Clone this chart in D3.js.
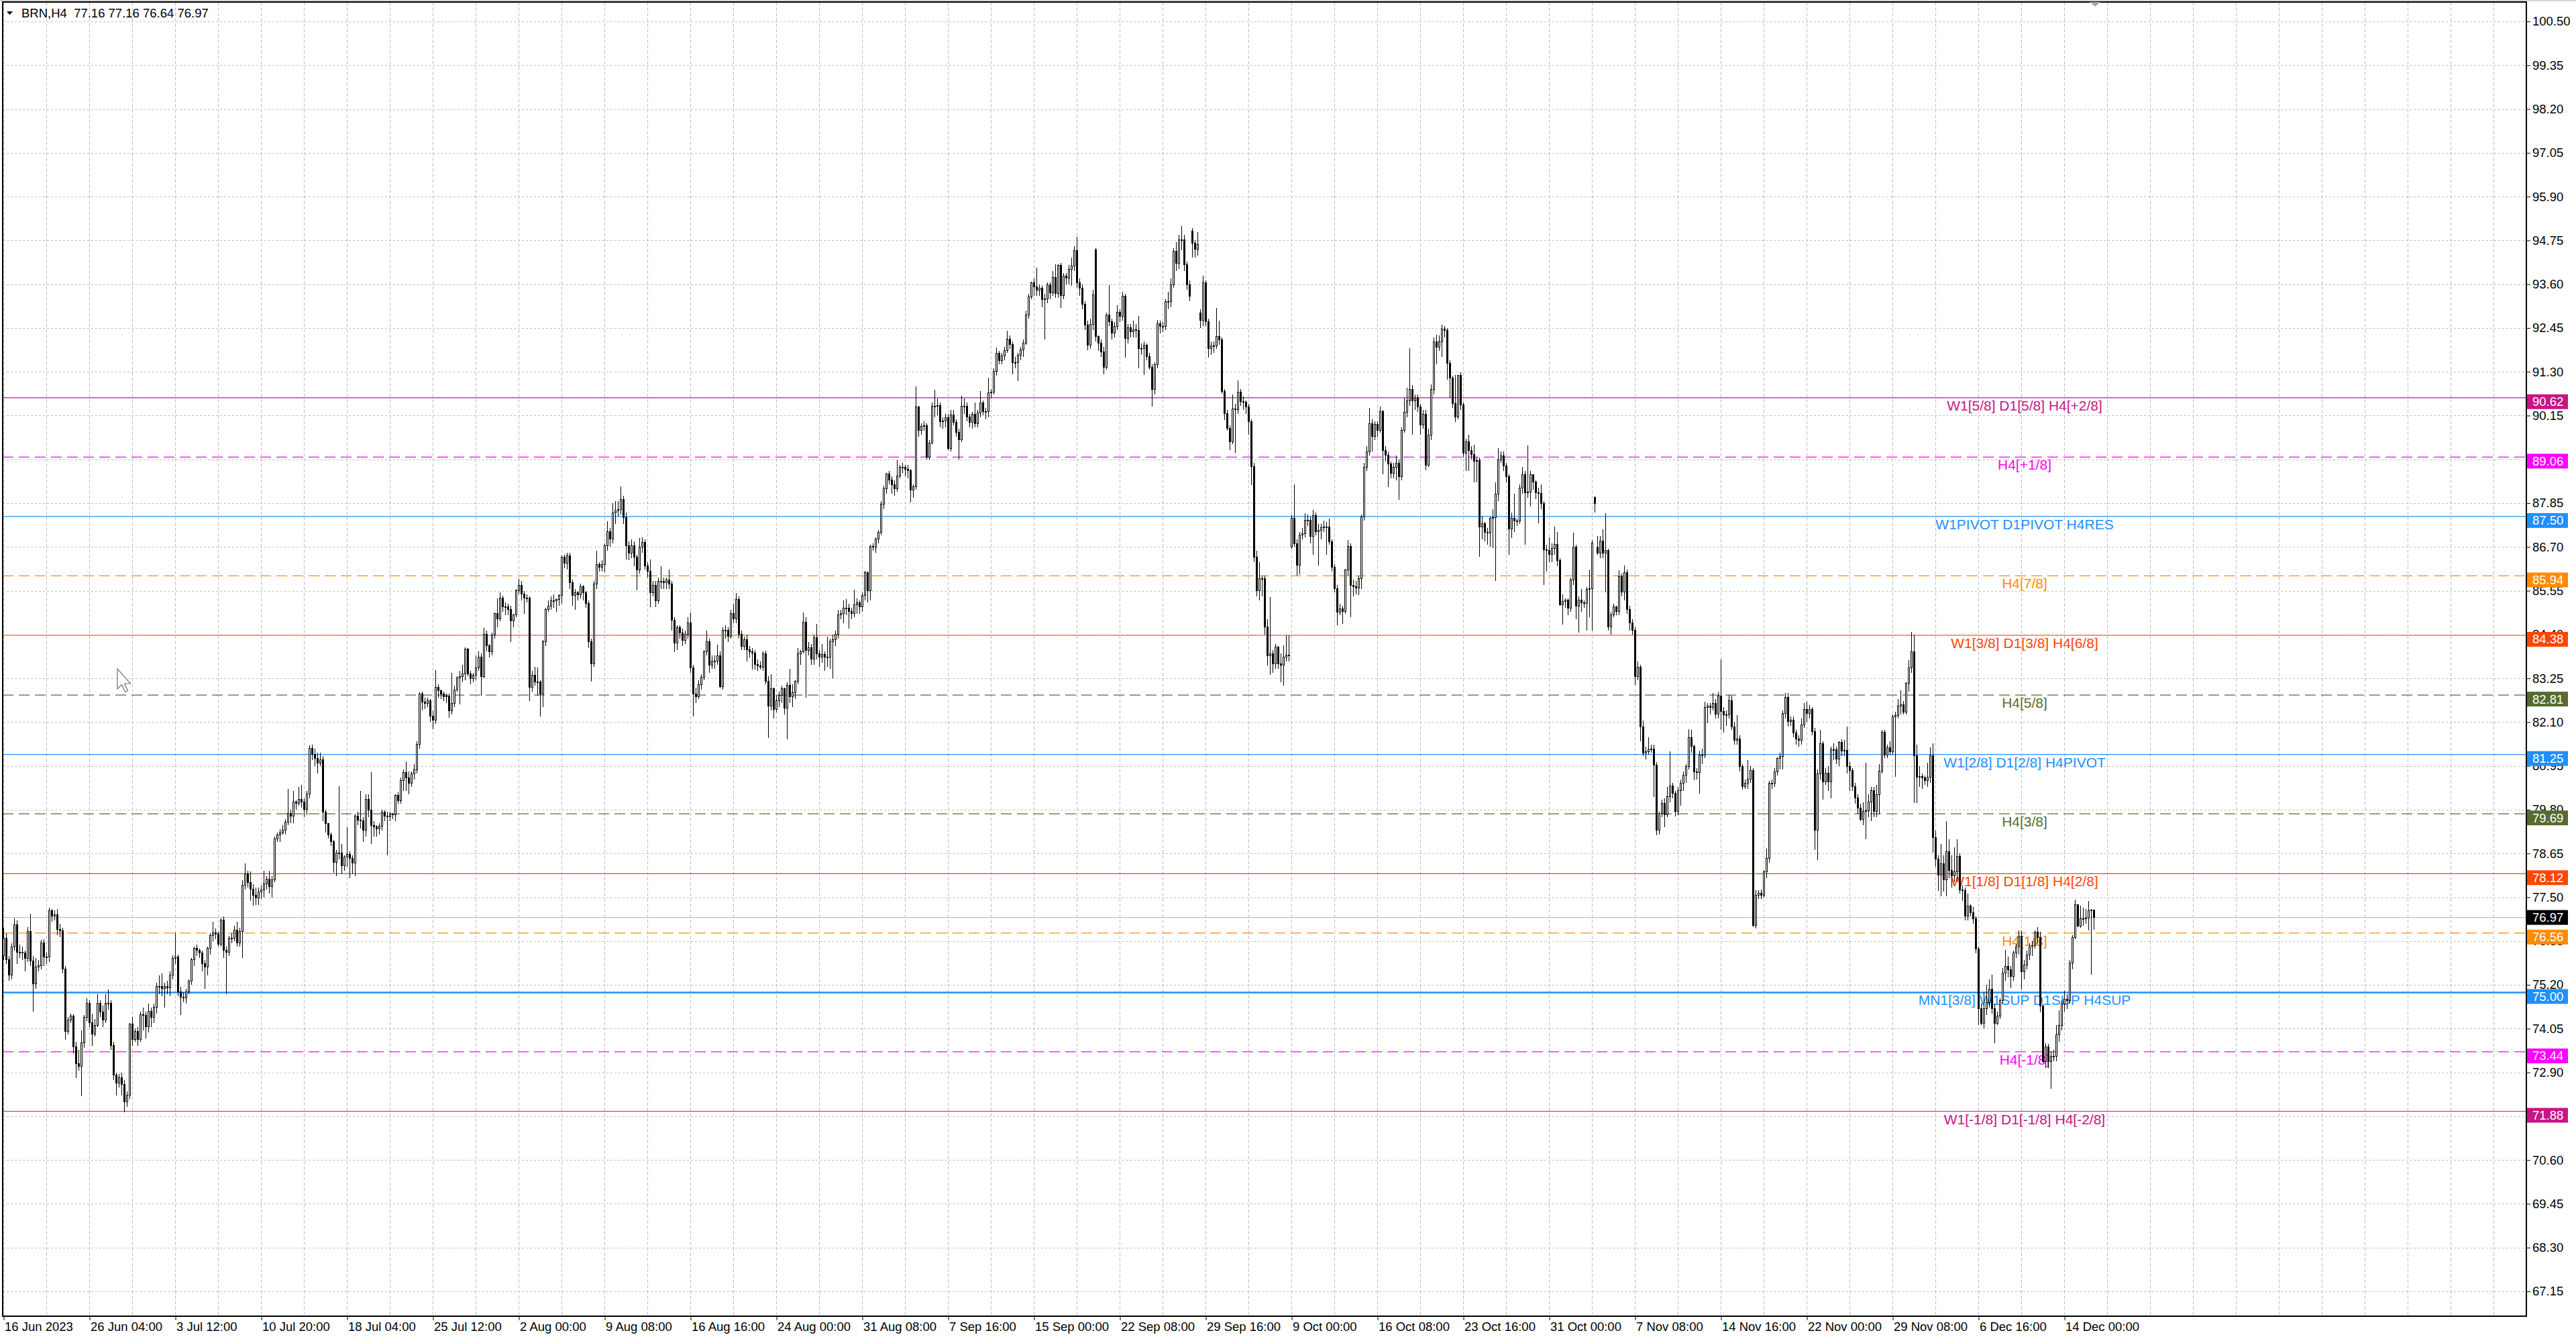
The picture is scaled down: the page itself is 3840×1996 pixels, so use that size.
<!DOCTYPE html>
<html>
<head>
<meta charset="utf-8">
<title>BRN,H4</title>
<script src="https://cdn.jsdelivr.net/npm/d3@7"></script>
<style>
  body { margin: 0; background: #fff; overflow: hidden; }
  svg { display: block; }
  text { font-family: "Liberation Sans", Arial, sans-serif; }
</style>
</head>
<body>
<svg></svg>
<script>
var symbol = "BRN,H4";
var lastQuote = [77.16, 77.16, 76.64, 76.97];

// H4 closes (16 Jun - 15 Dec 2023)
var closes = [
  76.43,75.86,75.45,76.2,76.77,76.06,76.06,76.03,75.9,76.6,
  75.83,75.22,75.66,75.7,76.3,75.93,75.93,77.14,77.0,77.05,
  76.65,76.62,75.62,73.97,74.28,74.38,73.57,73.13,73.06,73.67,
  74.34,74.72,74.21,73.9,74.14,74.71,74.48,74.28,74.71,74.72,
  73.6,72.83,72.62,72.76,72.59,72.12,72.3,74.17,73.77,73.97,
  73.77,74.41,74.4,74.1,74.51,74.34,74.61,75.15,75.15,75.1,
  75.15,75.12,75.45,75.89,75.93,75.02,74.88,74.85,75.02,75.29,
  75.86,76.16,76.1,76.03,75.76,75.66,76.16,76.5,76.57,76.53,
  76.27,76.91,76.1,76.06,76.43,76.43,76.64,76.3,76.6,77.81,
  78.12,77.88,77.71,77.55,77.48,77.65,77.7,77.85,77.98,77.78,
  77.95,79.03,79.13,79.2,79.26,79.47,79.7,79.64,80.01,79.97,
  80.07,80.01,79.8,80.21,81.41,81.25,81.15,81.02,81.12,79.74,
  79.43,79.14,78.96,78.42,78.66,78.66,78.32,78.56,78.63,78.53,
  78.39,79.64,79.53,79.5,79.27,80.07,79.79,79.39,79.35,79.3,
  79.36,79.73,79.64,79.62,79.68,79.66,80.17,80.03,80.57,80.77,
  80.64,80.5,80.74,80.84,81.51,82.83,82.63,82.59,82.66,82.25,
  82.15,83.01,82.92,82.83,82.76,82.79,82.39,82.6,82.94,83.26,
  83.3,83.36,84.01,83.37,83.24,83.33,83.53,83.8,83.3,84.41,
  84.1,83.94,84.38,84.95,84.82,85.36,85.12,85.12,85.05,84.75,
  84.92,85.56,85.69,85.46,85.36,85.36,83.01,83.33,83.16,83.16,
  82.83,84.21,85.05,85.15,85.29,85.29,85.32,85.42,86.43,86.27,
  86.47,85.76,85.42,85.5,85.44,85.66,85.49,85.22,84.21,83.64,
  85.73,86.23,86.16,86.23,86.74,87.11,86.91,87.6,87.65,87.68,
  87.95,87.48,86.74,86.53,86.73,86.43,86.1,86.7,86.82,86.2,
  86.06,85.5,85.7,85.29,85.8,85.8,85.76,85.83,85.73,84.78,
  84.18,84.58,84.45,84.24,84.41,84.71,83.53,82.83,82.76,83.08,
  83.28,83.94,84.21,83.6,83.7,83.7,83.84,83.03,84.51,84.51,
  84.36,84.96,84.82,85.33,84.41,84.09,84.27,84.0,83.95,83.92,
  83.62,83.58,83.55,83.9,83.17,82.52,82.98,82.43,82.66,82.81,
  82.98,82.47,83.07,82.76,82.87,83.17,83.9,83.94,84.73,83.99,
  84.05,83.76,84.31,83.9,83.81,83.87,83.8,83.8,84.22,84.27,
  84.41,84.92,84.96,85.1,85.1,85.0,84.96,85.19,85.24,85.12,
  85.42,86.02,85.56,86.71,86.69,86.9,87.08,87.82,88.23,88.62,
  88.45,88.33,88.23,88.56,88.79,88.79,88.74,88.7,88.19,88.28,
  90.37,89.76,89.87,89.88,89.05,89.43,90.4,90.4,90.42,89.99,
  90.0,90.1,89.29,90.17,89.98,89.71,89.52,90.4,90.4,90.12,
  89.98,90.19,89.94,90.22,90.49,90.26,90.26,90.74,90.77,91.32,
  91.78,91.6,91.72,91.85,92.15,92.01,91.55,91.55,91.74,91.87,
  92.06,92.8,93.26,93.63,93.53,93.44,93.49,93.19,93.21,93.58,
  93.38,93.78,93.35,94.1,93.3,93.81,93.76,93.99,94.08,94.48,
  93.63,93.5,93.07,92.52,92.0,92.55,93.32,92.22,92.05,91.83,
  91.42,92.8,92.62,92.31,92.49,92.86,92.75,93.29,92.18,92.46,
  92.35,92.4,92.38,91.92,91.92,92.0,91.7,91.42,90.84,91.48,
  92.56,92.49,92.49,93.15,93.15,93.58,94.46,94.15,94.77,94.77,
  94.11,93.58,93.28,94.68,94.52,94.65,92.66,93.63,92.62,91.92,
  91.99,91.98,92.22,92.14,90.78,90.21,89.81,89.46,90.32,90.3,
  90.76,90.52,90.5,90.38,89.99,88.81,86.44,85.56,85.87,85.87,
  84.6,83.85,83.9,83.63,84.07,83.63,83.6,83.8,83.86,83.84,
  87.45,86.79,86.22,87.01,87.05,87.4,87.4,86.97,87.52,87.1,
  87.14,87.2,87.23,87.23,86.84,86.17,85.6,84.99,85.08,85.0,
  86.09,86.72,85.69,85.65,85.63,85.87,87.49,88.8,89.2,89.94,
  89.6,89.92,89.77,90.25,89.24,89.11,88.89,88.63,88.8,88.9,
  88.54,89.77,90.23,90.53,90.84,90.53,90.6,90.38,89.9,90.18,
  88.85,89.64,90.84,92.09,91.95,92.08,92.42,92.38,91.52,91.13,
  90.47,90.12,91.2,90.43,89.16,89.46,89.24,89.13,88.95,88.97,
  87.22,87.31,87.08,87.07,87.46,87.48,88.08,88.99,89.1,88.82,
  88.54,87.17,87.46,87.38,87.38,88.25,88.6,88.12,88.15,88.6,
  88.4,88.12,88.1,87.84,86.63,86.6,86.5,86.67,86.76,86.35,
  85.18,85.27,85.3,85.1,85.84,86.7,85.14,85.31,85.23,85.21,
  85.59,85.6,86.8,87.84,86.53,86.85,86.54,86.6,84.6,84.92,
  85.12,85.01,85.93,85.51,86.03,85.05,84.7,84.52,83.3,83.54,
  81.98,81.28,81.32,81.37,81.39,80.97,79.27,79.7,79.96,79.66,
  80.14,80.42,80.23,79.75,80.31,80.49,80.71,80.93,81.7,81.46,
  80.8,80.77,81.24,81.24,82.49,82.52,82.49,82.6,82.31,82.79,
  82.38,82.29,82.3,82.67,81.98,81.63,81.65,80.93,80.4,80.49,
  80.6,80.83,76.76,77.55,77.6,77.56,78.17,78.52,80.49,80.49,
  80.8,81.15,81.2,82.33,82.75,82.11,82.16,81.81,81.65,81.63,
  82.03,82.44,82.33,82.44,81.85,79.27,80.75,81.54,80.53,80.76,
  80.53,81.38,81.38,81.13,81.57,81.34,81.36,80.94,80.83,80.4,
  80.1,79.84,79.54,79.76,79.78,80.01,80.31,79.76,80.2,80.82,
  81.84,81.24,81.43,81.33,82.24,82.27,82.53,82.56,82.37,83.12,
  83.52,83.95,81.21,80.66,80.67,80.63,80.57,80.66,81.21,79.07,
  78.51,78.08,78.38,77.95,78.7,78.21,78.07,78.17,78.58,77.7,
  77.67,77.01,77.27,77.1,76.93,76.15,74.57,74.18,74.57,74.74,
  75.08,74.57,74.18,74.39,74.78,75.51,75.68,75.6,75.43,76.03,
  76.2,76.47,75.55,75.72,75.98,76.2,76.24,76.58,76.45,74.65,
  73.19,73.58,73.19,73.33,73.33,73.88,74.14,74.7,74.83,74.78,
  75.77,76.45,77.31,76.75,76.93,76.93,76.95,77.14,77.16,76.97
];

var highs = [
  76.7,76.55,75.95,76.3,76.95,76.9,76.25,76.2,76.1,76.72,
  77.07,75.95,75.9,75.85,76.38,76.4,76.05,77.23,77.2,77.15,
  77.2,76.8,76.7,75.7,74.35,74.45,74.42,73.7,73.5,74.0,
  74.4,74.85,74.8,74.45,74.3,74.95,74.8,74.65,74.95,75.08,
  74.8,73.7,72.9,72.85,72.9,72.7,72.4,74.2,74.35,74.05,
  74.1,74.5,74.6,74.5,74.7,74.6,74.7,75.25,75.45,75.5,
  75.25,75.3,75.55,75.97,76.57,76.0,75.15,75.0,75.1,75.35,
  75.9,76.2,76.25,76.15,76.1,75.85,76.2,76.55,76.85,76.68,
  76.6,76.95,77.0,76.2,76.48,76.55,76.75,76.85,76.7,77.95,
  78.39,78.2,78.18,77.85,77.75,77.75,77.8,78.2,78.05,78.2,
  78.05,79.1,79.2,79.28,79.4,79.55,80.34,79.8,80.3,80.05,
  80.4,80.45,80.1,80.3,81.49,81.5,81.4,81.3,81.3,81.2,
  79.8,79.3,79.2,79.0,78.75,80.41,78.9,78.6,79.35,78.7,
  78.6,79.7,79.75,80.3,79.6,80.21,80.2,80.78,79.5,79.4,
  79.45,79.8,79.78,79.75,79.75,79.72,80.2,80.25,80.65,80.85,
  81.07,80.8,80.8,81.0,81.6,82.89,82.9,82.75,82.75,82.7,
  82.4,83.47,83.1,82.95,82.9,82.85,82.85,83.4,83.05,83.3,
  83.45,83.6,84.07,84.05,83.45,83.4,83.85,83.95,83.9,84.58,
  84.5,84.15,84.45,84.98,85.35,85.5,85.42,85.25,85.2,85.15,
  84.95,85.6,85.86,85.8,85.55,85.45,85.4,83.45,83.55,83.53,
  83.2,84.25,85.1,85.3,85.4,85.45,85.35,85.46,86.47,86.5,
  86.55,86.55,85.85,85.6,85.55,85.73,85.7,85.55,85.3,84.3,
  85.8,86.6,86.3,86.35,86.8,87.38,87.2,87.85,87.9,87.9,
  88.29,88.05,87.6,86.85,86.9,86.85,86.5,86.94,86.95,86.9,
  86.3,86.37,85.8,85.8,85.9,86.2,85.9,85.9,86.1,85.8,
  84.85,84.65,84.65,84.55,84.5,84.85,84.98,83.6,83.0,83.2,
  83.35,84.0,84.51,84.3,83.85,83.85,84.14,83.95,84.6,84.65,
  84.6,85.05,85.2,85.49,85.4,84.5,84.35,84.4,84.1,84.05,
  84.0,83.75,83.7,83.95,83.98,83.3,83.35,83.0,82.8,82.9,
  83.05,83.0,83.15,83.5,83.1,83.2,84.05,84.0,84.98,84.85,
  84.2,84.15,84.4,84.68,84.0,84.15,83.95,84.35,84.3,84.4,
  84.5,85.05,85.05,85.3,85.33,85.2,85.1,85.58,85.35,85.3,
  85.5,86.07,86.05,86.75,86.8,86.95,87.15,87.9,88.3,88.65,
  88.7,88.55,88.45,88.97,88.85,88.9,88.85,88.85,88.75,88.35,
  90.91,90.4,89.95,90.0,89.95,89.5,90.49,90.83,90.6,90.5,
  90.1,90.2,90.2,90.3,90.3,90.05,89.8,90.67,90.6,90.5,
  90.2,90.25,90.5,90.3,90.8,90.55,90.35,91.14,90.85,91.4,
  91.94,91.85,91.8,91.95,92.38,92.25,92.1,91.7,91.8,91.95,
  92.15,92.9,93.35,93.67,93.75,94.04,93.6,93.55,93.35,93.65,
  93.65,93.95,94.12,94.13,94.15,93.9,93.9,94.1,94.3,94.6,
  94.85,93.75,93.6,93.15,92.65,92.7,93.45,94.55,92.25,92.15,
  91.95,92.85,93.58,92.7,92.6,93.05,92.95,93.4,93.35,92.55,
  92.55,92.65,92.55,92.77,92.05,92.1,92.05,91.8,91.5,91.55,
  92.66,92.65,92.6,93.2,93.4,93.75,94.55,94.7,94.9,95.12,
  94.9,94.2,93.7,95.07,94.75,94.97,92.95,93.83,93.7,92.7,
  92.1,92.1,92.97,92.65,92.2,90.85,90.3,89.9,90.7,90.45,
  91.08,90.85,90.65,90.55,90.45,90.05,88.9,86.6,86.3,85.95,
  85.95,84.8,85.39,84.0,84.15,84.1,83.9,84.11,84.38,84.38,
  87.53,88.34,86.9,87.1,87.2,87.58,87.55,87.5,87.67,87.6,
  87.3,87.3,87.4,87.35,87.45,86.9,86.25,85.7,85.2,85.15,
  86.13,86.88,86.8,85.85,85.8,85.95,87.55,88.9,89.35,90.36,
  90.05,90.0,90.0,90.38,90.3,89.35,89.2,88.95,88.9,89.1,
  89.0,89.85,90.62,90.88,91.92,90.95,90.71,90.71,90.45,90.3,
  90.3,89.8,90.97,92.2,92.27,92.25,92.53,92.5,92.45,91.6,
  91.2,91.22,91.22,91.29,90.5,89.55,89.65,89.35,89.39,89.05,
  89.05,87.51,87.35,87.2,87.5,87.7,88.4,89.3,89.2,89.2,
  88.9,88.6,87.6,88.1,87.45,88.35,88.8,88.7,89.36,88.7,
  88.5,88.45,88.25,88.34,87.9,86.75,86.95,86.8,87.24,87.1,
  86.4,85.45,85.35,85.35,85.9,87.07,86.75,85.4,85.6,85.3,
  85.65,86.1,86.89,88.03,86.98,86.98,87.16,87.58,86.65,85.0,
  85.2,85.15,86.09,86.0,86.21,86.1,85.15,84.8,84.6,83.69,
  83.6,82.14,81.45,81.7,81.5,81.5,81.05,79.75,80.07,80.1,
  80.4,81.33,80.5,80.3,80.4,80.6,80.8,81.0,81.91,81.9,
  81.5,80.9,81.35,81.4,82.64,82.6,82.6,82.86,82.7,82.9,
  83.75,82.5,82.4,82.82,82.8,82.1,82.29,81.75,81.0,80.6,
  81.1,80.95,80.9,77.68,77.68,77.7,78.21,78.78,80.55,80.6,
  80.9,81.18,81.3,82.4,82.86,82.86,82.25,82.25,81.9,81.75,
  82.2,82.6,82.64,82.55,82.5,81.95,80.85,81.9,81.6,80.9,
  80.95,81.45,81.55,81.45,81.6,81.65,81.64,81.99,81.05,80.9,
  80.5,80.2,79.95,80.0,81.04,80.2,80.4,80.4,80.45,81.0,
  81.9,81.9,81.5,81.6,82.3,82.37,82.71,82.93,82.65,83.14,
  83.73,84.47,84.39,81.5,80.95,80.75,80.7,81.04,81.43,81.55,
  79.25,78.6,78.9,78.6,79.5,79.03,78.6,78.81,79.03,78.65,
  77.8,77.75,77.59,77.31,77.25,77.0,76.2,74.7,75.0,75.2,
  75.34,75.47,74.7,74.5,74.85,75.64,76.11,75.94,75.7,76.1,
  76.28,76.63,76.63,75.85,76.1,76.3,76.35,76.63,76.71,76.6,
  74.7,73.67,73.65,73.45,73.5,74.14,74.53,74.8,75.04,74.95,
  75.85,76.5,77.44,77.32,77.28,77.22,77.2,77.4,77.2,77.16
];

var lows = [
  75.85,75.75,75.3,75.35,76.1,75.75,75.9,75.85,75.55,75.8,
  75.7,74.49,75.1,75.55,75.6,75.7,75.75,75.8,76.85,76.9,
  76.5,76.45,75.5,73.75,73.9,74.2,73.4,72.75,72.95,72.27,
  73.55,74.25,74.1,73.6,73.85,74.1,74.35,74.1,74.2,74.55,
  73.5,72.7,72.3,72.5,72.3,71.85,72.0,72.2,73.6,73.7,
  73.6,73.7,74.0,73.8,73.95,74.1,74.2,74.45,74.95,74.9,
  74.6,74.95,74.9,75.35,75.75,74.9,74.4,74.75,74.7,74.95,
  75.2,75.7,75.95,75.9,75.55,75.1,75.45,76.0,76.35,76.4,
  76.2,76.2,75.9,74.95,75.95,76.3,76.35,76.2,76.2,75.9,
  77.7,77.75,77.4,77.28,77.3,77.3,77.45,77.5,77.7,77.6,
  77.5,77.9,78.95,78.95,79.15,79.15,79.4,79.45,79.45,79.8,
  79.9,79.85,79.6,79.65,80.1,81.1,80.95,80.75,80.95,79.5,
  79.2,79.05,78.85,78.15,78.05,78.5,78.1,78.2,78.3,78.0,
  78.1,78.05,79.4,79.3,78.95,79.1,79.6,78.9,79.1,79.1,
  79.15,79.25,79.5,78.61,79.5,79.55,79.5,79.95,79.95,80.3,
  80.3,80.2,80.4,80.6,80.75,81.4,82.4,82.45,82.5,82.1,
  81.92,82.05,82.75,82.7,82.65,82.6,82.22,82.3,82.5,82.9,
  82.56,83.15,83.2,83.3,83.1,83.15,83.2,83.45,82.79,83.25,
  83.95,83.8,83.85,84.3,84.6,84.75,85.0,84.9,84.9,84.21,
  84.6,84.85,85.45,85.3,84.95,85.25,82.66,82.9,83.05,82.8,
  82.25,82.5,84.1,85.0,85.05,85.1,85.0,85.15,85.2,86.15,
  86.1,85.6,85.15,85.05,85.3,85.35,85.3,85.1,84.04,83.16,
  83.55,85.6,86.05,86.05,86.03,86.6,86.7,86.8,87.3,87.5,
  87.55,87.3,86.37,86.35,86.4,86.2,85.56,86.0,86.55,86.1,
  85.9,85.12,85.4,85.12,85.2,85.6,85.6,85.6,85.6,84.5,
  83.94,84.0,84.3,84.1,84.15,84.3,83.4,82.25,82.6,82.7,
  82.95,83.2,83.85,83.4,83.5,83.5,83.6,82.99,82.95,84.3,
  84.2,84.3,84.7,84.7,84.3,83.99,84.0,83.7,83.8,83.49,
  83.49,83.45,83.49,83.45,83.1,81.69,82.4,82.2,82.35,82.5,
  82.6,82.3,81.65,82.6,82.5,82.7,83.1,83.6,83.9,82.75,
  83.85,83.6,83.6,83.75,83.55,83.65,83.44,83.55,83.5,83.26,
  84.1,84.3,84.8,84.7,84.9,84.55,84.8,84.85,84.95,84.95,
  85.0,85.3,85.24,85.3,86.6,86.55,86.8,87.0,87.7,88.1,
  88.35,88.1,88.05,88.15,88.5,88.65,88.55,88.5,87.87,88.0,
  88.2,89.6,89.65,89.75,89.0,89.0,89.4,90.1,90.15,89.85,
  89.8,89.85,89.25,89.2,89.9,89.6,88.99,89.45,90.2,90.0,
  89.85,89.8,89.85,89.85,90.1,90.15,90.05,90.1,90.6,90.7,
  91.2,91.5,91.5,91.6,91.8,91.9,91.23,91.4,91.05,91.6,
  91.7,92.0,92.7,93.2,93.3,93.3,93.3,93.0,92.15,93.1,
  93.2,93.3,93.25,93.25,92.98,93.2,93.6,93.6,93.55,93.95,
  93.5,93.3,92.95,92.4,91.87,91.9,92.4,92.1,91.85,91.7,
  91.23,91.35,92.5,92.15,92.2,92.4,92.6,92.65,91.67,92.05,
  92.2,92.2,92.2,91.4,91.75,91.22,91.6,91.35,90.38,90.7,
  91.4,92.3,92.35,92.4,92.95,93.0,93.5,93.95,94.0,94.5,
  93.95,93.45,93.15,94.3,94.3,94.35,92.45,92.5,92.5,91.67,
  91.75,91.8,91.9,92.0,90.73,90.03,89.75,89.24,89.4,89.18,
  90.2,90.4,90.3,90.2,89.64,88.32,86.3,85.4,85.3,85.4,
  84.4,83.59,83.34,83.4,83.5,83.5,83.15,83.06,83.7,83.7,
  86.66,86.7,85.95,85.98,86.9,86.95,87.25,86.8,86.5,87.0,
  86.22,86.9,87.1,86.5,86.75,86.05,85.5,84.64,84.9,84.68,
  84.95,85.95,84.86,85.4,85.45,85.43,85.6,87.4,88.7,89.1,
  89.2,89.5,89.6,89.7,88.6,88.95,88.28,88.5,88.5,88.45,
  87.93,88.45,89.7,90.1,90.4,89.64,90.3,90.25,89.64,89.8,
  88.72,88.8,89.5,90.7,91.5,91.85,91.7,92.2,91.1,90.62,
  90.35,89.99,90.05,90.3,89.05,88.69,88.7,89.0,88.4,88.4,
  86.45,86.9,86.85,86.75,86.7,86.67,85.8,87.9,88.9,88.7,
  88.4,86.5,86.94,87.1,87.25,87.3,88.1,86.76,88.0,87.77,
  88.2,87.95,87.33,87.7,85.71,86.06,86.3,86.3,86.5,86.2,
  85.16,84.66,85.1,84.9,85.0,85.7,84.81,84.45,85.0,85.1,
  84.5,84.85,84.51,87.6,86.5,86.4,86.4,85.5,84.5,84.39,
  84.85,84.9,84.9,85.4,85.3,84.95,84.5,84.4,83.08,83.2,
  81.59,81.2,81.12,81.25,81.3,80.14,79.13,79.15,79.6,79.35,
  79.6,80.0,80.1,79.62,79.65,79.9,80.3,80.5,80.85,81.3,
  80.58,80.6,80.23,81.0,81.15,82.07,82.3,82.4,82.2,82.2,
  81.9,81.82,82.0,82.2,81.9,81.5,81.5,80.8,80.32,80.35,
  80.35,80.5,76.72,76.68,77.45,77.45,77.5,78.0,78.4,80.35,
  80.4,80.7,80.85,80.85,82.2,81.98,82.0,81.7,81.5,81.45,
  81.5,81.95,82.1,82.2,81.75,78.74,78.47,80.6,80.06,80.45,
  80.3,80.1,81.1,81.0,80.95,81.2,81.2,80.75,80.3,80.3,
  79.95,79.7,79.5,79.4,79.03,79.6,79.5,79.6,79.6,79.67,
  80.75,81.15,81.15,81.22,81.25,80.66,82.2,82.3,82.3,82.3,
  82.9,83.4,79.97,79.97,80.4,80.35,80.45,80.4,80.5,78.68,
  78.3,77.66,77.53,77.65,77.53,78.0,77.75,77.9,77.9,77.6,
  77.4,76.9,76.9,77.0,76.8,76.03,74.14,74.14,74.05,74.4,
  74.6,74.45,73.67,74.14,74.31,74.7,75.3,75.4,75.12,75.3,
  75.9,76.0,75.08,75.35,75.6,75.85,75.95,76.15,76.3,74.48,
  73.15,73.02,73.02,72.47,73.2,73.2,73.7,74.0,74.5,74.57,
  74.7,75.6,76.4,76.71,76.7,76.75,76.8,76.63,75.47,76.64
];

// bars whose open is not the previous close (first bar, roll / weekend gaps)
var gapOpens = [[0, 75.96], [407, 94.5], [443, 95.0], [446, 92.84], [480, 86.7], [593, 88.0], [594, 86.7]];

var timeLabels = ["16 Jun 2023", "26 Jun 04:00", "3 Jul 12:00", "10 Jul 20:00", "18 Jul 04:00",
  "25 Jul 12:00", "2 Aug 00:00", "9 Aug 08:00", "16 Aug 16:00", "24 Aug 00:00", "31 Aug 08:00",
  "7 Sep 16:00", "15 Sep 00:00", "22 Sep 08:00", "29 Sep 16:00", "9 Oct 00:00", "16 Oct 08:00",
  "23 Oct 16:00", "31 Oct 00:00", "7 Nov 08:00", "14 Nov 16:00", "22 Nov 00:00", "29 Nov 08:00",
  "6 Dec 16:00", "14 Dec 00:00"];
var barsPerLabel = 32;

var priceTicks = [100.50, 99.35, 98.20, 97.05, 95.90, 94.75, 93.60, 92.45, 91.30, 90.15, 89.00,
  87.85, 86.70, 85.55, 84.40, 83.25, 82.10, 80.95, 79.80, 78.65, 77.50, 76.35, 75.20, 74.05,
  72.90, 71.75, 70.60, 69.45, 68.30, 67.15];

var levelPrices = [90.62, 89.06, 87.50, 85.94, 84.38, 82.81, 81.25, 79.69, 78.12, 76.56, 75.00, 73.44, 71.88];
var levelNames = ["W1[5/8] D1[5/8] H4[+2/8]", "H4[+1/8]", "W1PIVOT D1PIVOT H4RES", "H4[7/8]",
  "W1[3/8] D1[3/8] H4[6/8]", "H4[5/8]", "W1[2/8] D1[2/8] H4PIVOT", "H4[3/8]",
  "W1[1/8] D1[1/8] H4[2/8]", "H4[1/8]", "MN1[3/8] W1SUP D1SUP H4SUP", "H4[-1/8]",
  "W1[-1/8] D1[-1/8] H4[-2/8]"];

createChart = function() {
  var W = 3840, H = 1996;
  var plot = {left: 4, top: 3, right: 3766, bottom: 1962};

  // line looks for each level (same order as levelPrices)
  var levelColors = ["#c71585", "#ff00ff", "#1e90ff", "#ff8c00", "#ff4500", "#556b2f", "#1e90ff",
    "#556b2f", "#ff4500", "#ff8c00", "#1e90ff", "#ff00ff", "#c71585"];
  var levelDashed = [0, 1, 0, 1, 0, 1, 0, 1, 0, 1, 0, 1, 0];
  var font = 18.5;

  var n = closes.length;
  var x = d3.scaleLinear().domain([0, n - 1]).range([5.5, 5.5 + 4 * (n - 1)]);
  var y = d3.scaleLinear().domain([67.15, 100.5]).range([1925, 32]);

  var gaps = new Map(gapOpens);
  var bars = closes.map(function(c, i) {
    var o = gaps.has(i) ? gaps.get(i) : closes[i - 1];
    return {i: i, o: o, c: c, h: Math.max(highs[i], o, c), l: Math.min(lows[i], o, c)};
  });

  var svg = d3.select('svg').attr('width', W).attr('height', H)
      .style('background-color', 'white');

  svg.append('defs').append('clipPath').attr('id', 'plotclip')
    .append('rect')
    .attr('x', plot.left).attr('y', plot.top)
    .attr('width', plot.right - plot.left).attr('height', plot.bottom - plot.top);

  var g = svg.append('g').attr('clip-path', 'url(#plotclip)');

  // grid
  var gridX = d3.range(0, (plot.right - 5.5) / 4, 16);
  g.append('g').selectAll('line')
    .data(gridX).enter()
    .append('line')
    .attr('x1', function(d) { return x(d) }).attr('x2', function(d) { return x(d) })
    .attr('y1', plot.top).attr('y2', plot.bottom)
    .attr('stroke', '#c0c0c0').attr('stroke-dasharray', '5,3')
    .attr('shape-rendering', 'crispEdges');

  g.append('g').selectAll('line')
    .data(priceTicks).enter()
    .append('line')
    .attr('x1', plot.left).attr('x2', plot.right)
    .attr('y1', function(d) { return Math.round(y(d)) + 0.5 })
    .attr('y2', function(d) { return Math.round(y(d)) + 0.5 })
    .attr('stroke', '#c0c0c0').attr('stroke-dasharray', '3,3')
    .attr('shape-rendering', 'crispEdges');

  // murrey levels
  var levels = g.append('g').selectAll('g')
    .data(levelPrices).enter()
    .append('g');

  levels.append('line')
    .attr('x1', plot.left).attr('x2', plot.right)
    .attr('y1', function(d) { return y(d) }).attr('y2', function(d) { return y(d) })
    .attr('stroke', function(d, i) { return levelColors[i] })
    .attr('stroke-width', function(d) { return d == 75 ? 2.5 : 1.2 })
    .attr('stroke-dasharray', function(d, i) { return levelDashed[i] ? '16,8' : null });

  levels.append('text')
    .attr('x', 3018)
    .attr('y', function(d) { return y(d) + 19 })
    .attr('text-anchor', 'middle')
    .attr('font-size', 21)
    .attr('fill', function(d, i) { return levelColors[i] })
    .text(function(d, i) { return levelNames[i] });

  // current price line
  g.append('line')
    .attr('x1', plot.left).attr('x2', plot.right)
    .attr('y1', y(lastQuote[3])).attr('y2', y(lastQuote[3]))
    .attr('stroke', '#c0c0c0').attr('stroke-width', 1.2);

  // candles
  var candles = g.append('g').attr('shape-rendering', 'crispEdges')
    .selectAll('g')
    .data(bars).enter()
    .append('g');

  candles.append('line')
    .attr('x1', function(d) { return x(d.i) }).attr('x2', function(d) { return x(d.i) })
    .attr('y1', function(d) { return y(d.h) }).attr('y2', function(d) { return y(d.l) })
    .attr('stroke', 'black');

  candles.append('rect')
    .attr('x', function(d) { return x(d.i) - 1 })
    .attr('width', 2)
    .attr('y', function(d) { return y(Math.max(d.o, d.c)) })
    .attr('height', function(d) { return Math.max(1, Math.abs(y(d.o) - y(d.c))) })
    .attr('stroke', 'black')
    .attr('fill', function(d) {
      if (d.c >= d.o) {
        return 'white'
      }
      else {
        return 'black'
      }
    });

  // frame
  svg.append('rect').attr('x', 0).attr('y', 0).attr('width', W).attr('height', 2).attr('fill', '#d4d4d4');
  svg.append('path')
    .attr('d', 'M' + plot.left + ',' + plot.bottom + 'V' + plot.top + 'H' + plot.right + 'V' + plot.bottom + 'Z')
    .attr('fill', 'none').attr('stroke', 'black').attr('stroke-width', 1.5)
    .attr('shape-rendering', 'crispEdges');

  // chart shift marker
  svg.append('path').attr('d', 'M3115,3 L3131,3 L3123,10 Z').attr('fill', '#a8a8a8');

  // axes
  var bottomAxis = d3.axisBottom(x)
    .tickValues(d3.range(0, timeLabels.length * barsPerLabel, barsPerLabel))
    .tickFormat(function(d, i) { return timeLabels[i] })
    .tickSize(6).tickPadding(3);

  var xa = svg.append('g')
    .attr('transform', 'translate(0,' + plot.bottom + ')')
    .call(bottomAxis);
  xa.select('.domain').remove();
  xa.selectAll('text').attr('text-anchor', 'start').attr('dx', 1)
    .attr('font-size', font).attr('font-family', '"Liberation Sans", Arial, sans-serif').attr('fill', 'black');

  var rightAxis = d3.axisRight(y)
    .tickValues(priceTicks)
    .tickFormat(d3.format('.2f'))
    .tickSize(6).tickPadding(3);

  var ya = svg.append('g')
    .attr('transform', 'translate(' + plot.right + ',0)')
    .call(rightAxis);
  ya.select('.domain').remove();
  ya.selectAll('text')
    .attr('font-size', font).attr('font-family', '"Liberation Sans", Arial, sans-serif').attr('fill', 'black');

  // level price boxes on the axis
  var boxes = svg.append('g').selectAll('g')
    .data(levelPrices).enter()
    .append('g')
    .attr('transform', function(d) { return 'translate(' + (plot.right + 1) + ',' + y(d) + ')' });

  boxes.append('rect')
    .attr('x', 0).attr('y', -5).attr('width', 61).attr('height', 22)
    .attr('fill', function(d, i) { return levelColors[i] });

  boxes.append('text')
    .attr('x', 8).attr('y', 6).attr('dy', '0.35em')
    .attr('font-size', font).attr('fill', 'white')
    .text(function(d) { return d3.format('.2f')(d) });

  var cur = svg.append('g')
    .attr('transform', 'translate(' + (plot.right + 1) + ',' + y(lastQuote[3]) + ')');
  cur.append('rect').attr('x', 0).attr('y', -11).attr('width', 61).attr('height', 22).attr('fill', 'black');
  cur.append('text').attr('x', 8).attr('dy', '0.35em').attr('font-size', font).attr('fill', 'white')
    .text(d3.format('.2f')(lastQuote[3]));

  // title
  svg.append('path').attr('d', 'M10,17 L19,17 L14.5,22 Z').attr('fill', 'black');
  svg.append('text')
    .attr('x', 32).attr('y', 26)
    .attr('font-size', font)
    .style('white-space', 'pre')
    .text(symbol + '  ' + lastQuote.map(d3.format('.2f')).join(' '));

  // mouse pointer left on the chart
  svg.append('path')
    .attr('d', 'M175,997 L175,1027 L181.5,1020.5 L186.5,1031.5 L190.5,1029.5 L185.5,1019 L194.5,1019 Z')
    .attr('fill', 'white').attr('stroke', '#707070').attr('stroke-width', 1.2);
}

createChart();
</script>
</body>
</html>
